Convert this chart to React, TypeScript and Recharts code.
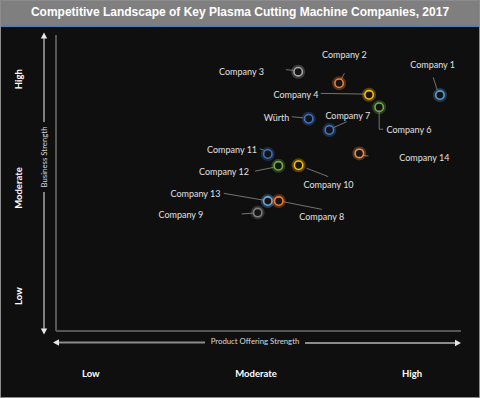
import React from 'react';
import { ScatterChart, Scatter, XAxis, YAxis } from 'recharts';

// Company positions on the landscape (0-100 scale on both axes)
const companies = [
  'Company 1', 'Company 2', 'Company 3', 'Company 4', 'Company 6', 'Company 7', 'Würth',
  'Company 14', 'Company 11', 'Company 12', 'Company 10', 'Company 13', 'Company 8', 'Company 9',
];
const productStrength = [94.8, 69.9, 59.8, 77.3, 79.8, 67.5, 62.4, 74.9, 52.3, 54.9, 59.9, 52.3, 55.0, 49.8];
const businessStrength = [79.7, 83.7, 87.6, 79.8, 75.6, 67.9, 71.7, 60.0, 59.8, 55.8, 56.0, 43.9, 43.9, 40.0];

const levelLabels = ['Low', 'Moderate', 'High'];
const xLevelTicks = [8.6, 49.4, 87.9];
const yLevelTicks = [11.8, 48.3, 85.1];

// marker colours
const MARKER_COLORS: Record<string, string> = {
  'Company 1': '#5b9bd5',
  'Company 2': '#ed7d31',
  'Company 3': '#a5a5a5',
  'Company 4': '#ffc000',
  'Company 6': '#70ad47',
  'Company 7': '#3f78c8',
  'Würth': '#4472c4',
  'Company 14': '#f08c4a',
  'Company 11': '#3f6fc0',
  'Company 12': '#70ad47',
  'Company 10': '#ffc000',
  'Company 13': '#6fa8dc',
  'Company 8': '#ed7d31',
  'Company 9': '#7f7f7f',
};

// label placement relative to the marker (px), with leader line points
type Anchor = 'start' | 'middle' | 'end';
const LABEL_LAYOUT: Record<string, { anchor: Anchor; dx: number; dy: number; leader: number[][] }> = {
  'Company 1': { anchor: 'middle', dx: -7.3, dy: -30.7, leader: [[-6.7, -17.7], [-2.7, -5]] },
  'Company 2': { anchor: 'middle', dx: 5.3, dy: -28.6, leader: [[5.3, -10], [1.7, -3]] },
  'Company 3': { anchor: 'end', dx: -34.3, dy: -0.7, leader: [[-12.3, -2], [-5, -1.4]] },
  'Company 4': { anchor: 'end', dx: -50.7, dy: -0.7, leader: [[-48.3, -1.4], [-4, -0.7]] },
  'Company 6': { anchor: 'start', dx: 7.4, dy: 22.7, leader: [[0, 4.4], [0, 22], [4, 22]] },
  'Company 7': { anchor: 'middle', dx: 18.4, dy: -14.7, leader: [[4, -2.3], [17.4, -8.3]] },
  'Würth': { anchor: 'end', dx: -19.4, dy: -1.4, leader: [[-17, -2], [-5.4, -1]] },
  'Company 14': { anchor: 'start', dx: 40, dy: 4, leader: [[4, 2], [9, 2.7]] },
  'Company 11': { anchor: 'end', dx: -10.7, dy: -4.7, leader: [[-8, -5.3], [-3, -3.3]] },
  'Company 12': { anchor: 'end', dx: -29.3, dy: 6, leader: [[-23.3, 5.3], [-5, 1.6]] },
  'Company 10': { anchor: 'middle', dx: 30, dy: 19.7, leader: [[8, 3], [29.6, 11.4]] },
  'Company 13': { anchor: 'end', dx: -47.3, dy: -7.7, leader: [[-44, -7.7], [-4.7, -1]] },
  'Company 8': { anchor: 'start', dx: 20.6, dy: 15.7, leader: [[4.6, 0.7], [43, 8.3]] },
  'Company 9': { anchor: 'end', dx: -54.4, dy: 2, leader: [[-16, 1.3], [-4.4, 0.6]] },
};

const points = companies.map((name, i) => ({ name, x: productStrength[i], y: businessStrength[i] }));

const FONT = 'Lato, "Open Sans", sans-serif';

const Marker = (props: any) => {
  const { cx, cy, payload } = props;
  if (cx == null || cy == null) return null;
  const color = MARKER_COLORS[payload.name] || '#a5a5a5';
  const lay = LABEL_LAYOUT[payload.name];
  return (
    <g>
      {lay && (
        <polyline
          points={lay.leader.map(p => `${cx + p[0]},${cy + p[1]}`).join(' ')}
          fill="none"
          stroke="#8c8c8c"
          strokeWidth={0.8}
        />
      )}
      <circle cx={cx} cy={cy} r={5} fill="none" stroke={color} strokeOpacity={0.3} strokeWidth={4} />
      <circle cx={cx} cy={cy} r={4.2} fill="#141414" stroke={color} strokeWidth={1.6} />
      {lay && (
        <text
          x={cx + lay.dx}
          y={cy + lay.dy}
          textAnchor={lay.anchor}
          dominantBaseline="central"
          fontFamily={FONT}
          fontSize={9}
          fill="#e0e0e0"
        >
          {payload.name}
        </text>
      )}
    </g>
  );
};

const XTick = (props: any) => {
  const { x, y, index } = props;
  return (
    <text x={x} y={y + 40} textAnchor="middle" dominantBaseline="central"
      fontFamily={FONT} fontSize={9.5} fontWeight={700} fill="#ffffff">
      {levelLabels[index]}
    </text>
  );
};

const YTick = (props: any) => {
  const { y, index } = props;
  return (
    <text x={19} y={y} transform={`rotate(-90, 19, ${y})`} textAnchor="middle" dominantBaseline="central"
      fontFamily={FONT} fontSize={9.5} fontWeight={700} fill="#ffffff">
      {levelLabels[index]}
    </text>
  );
};

export default function App() {
  const arrow = '#8c8c8c';
  return (
    <div style={{ position: 'absolute', left: 0, top: 0, width: 480, height: 398, background: '#0f0f0f', overflow: 'hidden' }}>
      <div style={{ position: 'absolute', left: 0, top: 0, width: 480 }}>
        <ScatterChart width={480} height={398} margin={{ top: 35, right: 19, bottom: 7, left: 6 }}>
          <XAxis
            type="number"
            dataKey="x"
            domain={[0, 100]}
            ticks={xLevelTicks}
            interval={0}
            height={60}
            tickSize={0}
            tickLine={false}
            axisLine={{ stroke: '#555555', strokeWidth: 2 }}
            tick={<XTick />}
          />
          <YAxis
            type="number"
            dataKey="y"
            domain={[0, 100]}
            ticks={yLevelTicks}
            interval={0}
            width={50}
            tickSize={0}
            tickLine={false}
            axisLine={{ stroke: '#555555', strokeWidth: 2 }}
            tick={<YTick />}
          />
          <Scatter data={points} shape={<Marker />} isAnimationActive={false} />
        </ScatterChart>
      </div>

      {/* axis arrows */}
      <svg width={480} height={398} style={{ position: 'absolute', left: 0, top: 0, pointerEvents: 'none' }}>
        <line x1={44} y1={37} x2={44} y2={122} stroke={arrow} strokeWidth={1.8} />
        <line x1={44} y1={192} x2={44} y2={330} stroke={arrow} strokeWidth={1.8} />
        <polygon points="44,32.5 40.8,38.5 47.2,38.5" fill="#e6e6e6" />
        <polygon points="44,334.5 40.8,328.5 47.2,328.5" fill="#e6e6e6" />
        <text x={44} y={157} transform="rotate(-90, 44, 157)" textAnchor="middle" dominantBaseline="central"
          fontFamily={FONT} fontSize={7.8} fill="#d9d9d9">Business Strength</text>

        <line x1={58} y1={342.5} x2={205} y2={342.5} stroke={arrow} strokeWidth={1.8} />
        <line x1={305} y1={343} x2={456} y2={343} stroke={arrow} strokeWidth={1.8} />
        <polygon points="53,342.5 59,339.3 59,345.7" fill="#e6e6e6" />
        <polygon points="461,343 455,339.8 455,346.2" fill="#e6e6e6" />
        <text x={255} y={341} textAnchor="middle" dominantBaseline="central"
          fontFamily={FONT} fontSize={7.8} fill="#d9d9d9">Product Offering Strength</text>
      </svg>

      <div style={{
        position: 'absolute', left: 0, top: 0, width: 480, height: 25,
        background: '#7f7f7f', borderBottom: '2px solid #4f81bd',
        color: '#ffffff', fontFamily: '"Liberation Sans", Arial, sans-serif', fontWeight: 700,
        fontSize: 12, lineHeight: '25px', textAlign: 'center',
      }}>
        Competitive Landscape of Key Plasma Cutting Machine Companies, 2017
      </div>
      <div style={{
        position: 'absolute', left: 0, top: 0, width: 480, height: 398, boxSizing: 'border-box',
        border: '1px solid #8c8c8c', pointerEvents: 'none',
      }} />
    </div>
  );
}
